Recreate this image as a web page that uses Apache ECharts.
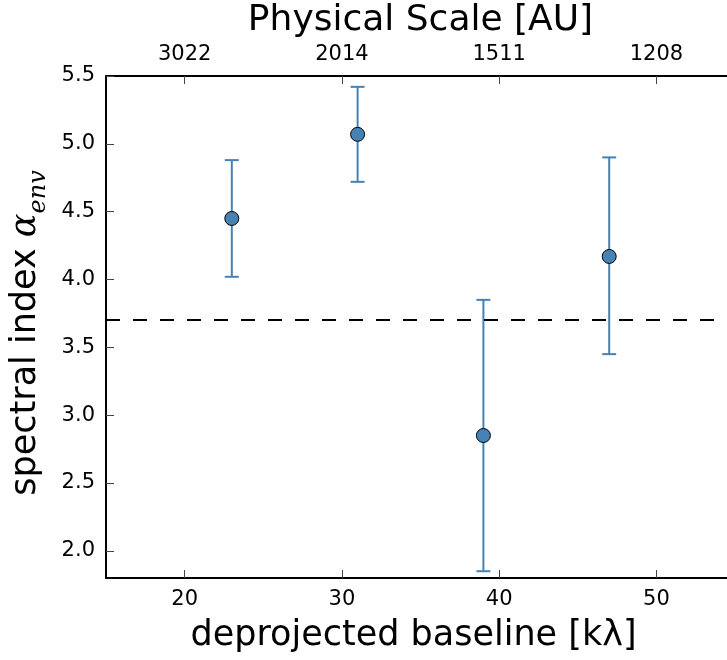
<!DOCTYPE html>
<html>
<head>
<meta charset="utf-8">
<script src="https://cdn.jsdelivr.net/npm/echarts@6/dist/echarts.min.js"></script>
<style>html,body{margin:0;padding:0;background:#fff;}#c{width:727px;height:660px;}</style>
</head>
<body>
<div id="c"></div>
<script>
// Data
var baseline = [23, 31, 39, 47];
var alphaEnv = [4.45, 5.07, 2.85, 4.17];
var alphaLow = [4.02, 4.72, 1.85, 3.45];
var alphaHigh = [4.88, 5.42, 3.85, 4.90];
var refLevel = 3.7;
var xTicks = [20, 30, 40, 50];
var topTickLabels = ['3022', '2014', '1511', '1208'];
var yTicks = [2.0, 2.5, 3.0, 3.5, 4.0, 4.5, 5.0, 5.5];

var font = 'DejaVu Sans';
var points = baseline.map(function (b, i) { return [b, alphaEnv[i]]; });
var errs = baseline.map(function (b, i) { return [b, alphaLow[i], alphaHigh[i]]; });

var chart = echarts.init(document.getElementById('c'), null, {renderer: 'canvas'});
var axisLineStyle = {color: '#000', width: 2};
var tickStyle = {color: '#444', width: 1};
var tickFont = 21;
var nameFont = 35;
chart.setOption({
  backgroundColor: '#fff',
  animation: false,
  grid: {left: 106, top: 76, right: -8, bottom: 82, containLabel: false, outerBoundsMode: 'none'},
  xAxis: [{
    type: 'value', position: 'bottom', min: 15, max: 55,
    name: 'deprojected baseline [kλ]', nameLocation: 'middle', nameGap: 40,
    nameTextStyle: {fontFamily: font, fontSize: nameFont, color: '#000', padding: [0, 14, 0, 0]},
    axisLine: {show: true, onZero: false, lineStyle: axisLineStyle},
    axisTick: {show: true, inside: true, length: 8, lineStyle: tickStyle, customValues: xTicks},
    axisLabel: {fontFamily: font, fontSize: tickFont, color: '#000', margin: 11, customValues: xTicks},
    splitLine: {show: false}
  }, {
    type: 'value', position: 'top', min: 15, max: 55,
    name: 'Physical Scale [AU]', nameLocation: 'middle', nameGap: 37,
    nameTextStyle: {fontFamily: font, fontSize: 36, color: '#000'},
    axisLine: {show: true, onZero: false, lineStyle: axisLineStyle},
    axisTick: {show: true, inside: true, length: 8, lineStyle: tickStyle, customValues: xTicks},
    axisLabel: {fontFamily: font, fontSize: tickFont, color: '#000', margin: 11, customValues: xTicks,
      formatter: function (v) { var i = xTicks.indexOf(v); return i >= 0 ? topTickLabels[i] : ''; }},
    splitLine: {show: false}
  }],
  yAxis: [{
    type: 'value', position: 'left', min: 1.8, max: 5.5,
    name: '{a|spectral index }{b|α}{c|env}', nameLocation: 'middle', nameGap: 57, nameRotate: 90,
    nameTextStyle: {
      padding: [0, 12, 0, 0],
      rich: {
        a: {fontFamily: font, fontSize: nameFont, color: '#000'},
        b: {fontFamily: 'DejaVu Serif', fontStyle: 'italic', fontSize: nameFont, color: '#000'},
        c: {fontFamily: 'DejaVu Serif', fontStyle: 'italic', fontSize: 24, color: '#000', verticalAlign: 'bottom', padding: [0, 0, -7, 0]}
      }
    },
    axisLine: {show: true, onZero: false, lineStyle: axisLineStyle},
    axisTick: {show: true, inside: true, length: 8, lineStyle: tickStyle, customValues: yTicks},
    axisLabel: {fontFamily: font, fontSize: tickFont, color: '#000', margin: 11, customValues: yTicks,
      formatter: function (v) { return v.toFixed(1); }},
    splitLine: {show: false}
  }, {
    type: 'value', position: 'right', min: 1.8, max: 5.5,
    axisLine: {show: true, onZero: false, lineStyle: axisLineStyle},
    axisTick: {show: true, inside: true, length: 8, lineStyle: tickStyle, customValues: yTicks},
    axisLabel: {show: false, customValues: yTicks},
    splitLine: {show: false}
  }],
  series: [{
    type: 'custom',
    xAxisIndex: 0, yAxisIndex: 0,
    data: errs,
    z: 2,
    renderItem: function (params, api) {
      var x = api.value(0);
      var lo = api.coord([x, api.value(1)]);
      var hi = api.coord([x, api.value(2)]);
      var hw = 7;
      var st = {stroke: '#4682b4', lineWidth: 2};
      return {type: 'group', children: [
        {type: 'line', shape: {x1: lo[0], y1: lo[1], x2: hi[0], y2: hi[1]}, style: st},
        {type: 'line', shape: {x1: lo[0] - hw, y1: lo[1], x2: lo[0] + hw, y2: lo[1]}, style: st},
        {type: 'line', shape: {x1: hi[0] - hw, y1: hi[1], x2: hi[0] + hw, y2: hi[1]}, style: st}
      ]};
    }
  }, {
    type: 'scatter',
    xAxisIndex: 0, yAxisIndex: 0,
    data: points,
    symbol: 'circle', symbolSize: 14,
    z: 3,
    itemStyle: {color: '#4682b4', borderColor: '#000', borderWidth: 1, opacity: 1},
    markLine: {
      silent: true, symbol: 'none', animation: false,
      label: {show: false},
      lineStyle: {color: '#000', width: 2, type: [14, 13]},
      data: [{yAxis: refLevel}]
    }
  }]
});
</script>
</body>
</html>
